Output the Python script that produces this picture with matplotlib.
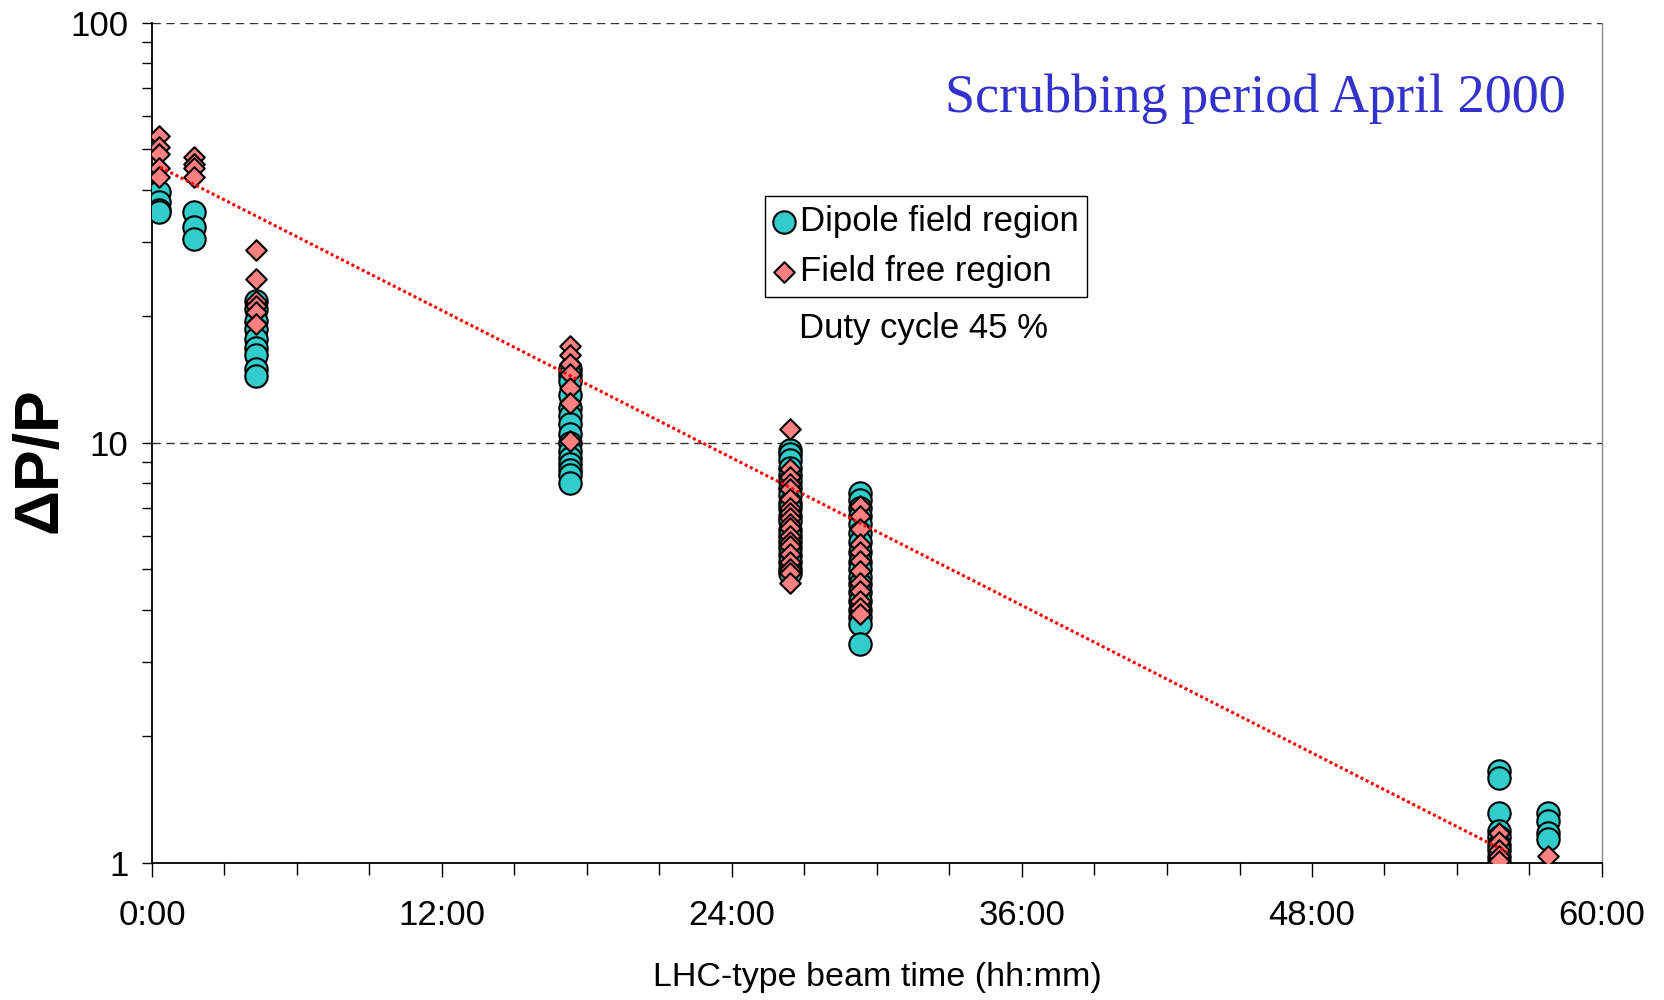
import numpy as np
import matplotlib
matplotlib.use("Agg")
import matplotlib.pyplot as plt
from matplotlib.ticker import MultipleLocator, FuncFormatter, LogLocator, NullFormatter

plt.rcParams['font.family'] = ['Liberation Sans', 'DejaVu Sans']

# Beam time of each measurement group (hours)
times = [0.30, 1.74, 4.29, 17.30, 26.40, 29.30, 55.74, 57.77]

# Dipole field region, dP/P values per group
dipole_vals = [
    [39.6, 37.5, 35.9, 35.5],
    [35.5, 32.7, 30.6],
    [21.7, 20.8, 19.5, 18.7, 17.7, 16.8, 16.2, 15.0, 14.4],
    [15.0, 14.5, 14.0, 13.0, 12.1, 11.6, 11.1, 10.5, 10.0, 9.55, 9.2, 8.9, 8.6, 8.4, 8.0],
    [9.6, 9.4, 9.1, 8.7, 8.4, 8.1, 7.8, 7.5, 7.2, 7.0, 6.7, 6.5, 6.2, 6.0, 5.8, 5.6,
     5.4, 5.2, 5.0, 4.9],
    [7.6, 7.3, 7.0, 6.7, 6.4, 6.1, 5.8, 5.5, 5.2, 5.0, 4.8, 4.6, 4.4, 4.2, 4.0, 3.85,
     3.7, 3.32],
    [1.65, 1.59, 1.31, 1.19, 1.15, 1.10, 1.07, 1.03, 1.0],
    [1.31, 1.26, 1.18, 1.14],
]

# Field free region, dP/P values per group
free_vals = [
    [53.6, 50.7, 48.7, 45.0, 42.8],
    [48.0, 46.2, 45.0, 42.8],
    [28.8, 24.5, 21.7, 21.2, 20.5, 19.2],
    [16.96, 16.2, 15.4, 14.6, 13.5, 12.4, 10.1],
    [10.8, 8.65, 8.3, 7.97, 7.75, 7.34, 6.99, 6.8, 6.61, 6.4, 6.26, 5.99, 5.8, 5.67,
     5.43, 5.2, 5.0, 4.89, 4.63],
    [7.06, 6.69, 6.23, 5.74, 5.5, 5.23, 4.95, 4.63, 4.43, 4.20, 4.05, 3.91],
    [1.18, 1.12, 1.07, 1.04, 1.01],
    [1.04],
]

# Exponential trend line (straight on log axis), end points
trend_t = [0.33, 56.07]
trend_y = [45.3, 1.06]

x_ticks = [0, 12, 24, 36, 48, 60]


def expand(groups):
    t = np.concatenate([[times[i]] * len(g) for i, g in enumerate(groups)])
    v = np.concatenate(groups)
    return t, v


def hhmm(x, pos):
    return f"{int(x)}:{int(round((x - int(x)) * 60)):02d}"


dip_t, dip_v = expand(dipole_vals)
free_t, free_v = expand(free_vals)

fig = plt.figure(figsize=(16.65, 10), dpi=100)
ax = fig.add_axes([152 / 1665, 1 - 862.7 / 1000, 1450 / 1665, 840 / 1000])

ax.scatter(dip_t, dip_v, s=260, marker='o', color='#33CCCC', edgecolors='black',
           linewidths=1.5, zorder=3, label='Dipole field region')
ax.scatter(free_t, free_v, s=110, marker='D', color='#FF8080', edgecolors='black',
           linewidths=1.5, zorder=4, label='Field free region')
ax.plot(trend_t, trend_y, color='#FF0000', linestyle=(0, (1, 0.9)), linewidth=2.2,
        zorder=5)

ax.set_yscale('log')
ax.set_ylim(1, 100)
ax.set_xlim(0, 60)
ax.set_xticks(x_ticks)
ax.xaxis.set_minor_locator(MultipleLocator(3))
ax.xaxis.set_major_formatter(FuncFormatter(hhmm))
ax.yaxis.set_major_locator(LogLocator(base=10, numticks=5))
ax.yaxis.set_minor_locator(LogLocator(base=10, subs=np.arange(2, 10), numticks=20))
ax.yaxis.set_minor_formatter(NullFormatter())
ax.yaxis.set_major_formatter(FuncFormatter(lambda v, p: f"{v:g}"))

ax.tick_params(axis='x', which='major', direction='out', length=10, width=1,
               labelsize=25, pad=16)
ax.tick_params(axis='x', which='minor', direction='out', length=8.5, width=1)
ax.tick_params(axis='y', which='both', direction='out', length=7, width=1,
               labelsize=25, pad=10)

ax.yaxis.grid(True, which='major', linestyle=(0, (6, 4)), color='#333333', linewidth=1)
ax.set_axisbelow(True)
ax.spines['top'].set_visible(False)
ax.spines['right'].set_color('#888888')
ax.spines['right'].set_linewidth(1)
ax.spines['left'].set_linewidth(1.3)
ax.spines['bottom'].set_linewidth(1.3)

ax.set_xlabel('LHC-type beam time (hh:mm)', fontsize=24.5)
ax.xaxis.set_label_coords(0.5, -0.118)
ax.set_ylabel('ΔP/P', fontsize=45, fontweight='bold', va='center')
ax.yaxis.set_label_coords(-0.077, 0.479)

ax.text(0.975, 0.8937, 'Scrubbing period April 2000', transform=ax.transAxes,
        ha='right', va='baseline', fontsize=39, color='#3333CC',
        family=['Liberation Serif', 'DejaVu Serif'])

leg = ax.legend(loc='upper left', bbox_to_anchor=(0.4228, 0.7937), borderaxespad=0,
                fontsize=25, frameon=True, fancybox=False, framealpha=1,
                edgecolor='black', handletextpad=0.15, handlelength=0.6,
                borderpad=0.25, labelspacing=0.5)
leg.get_frame().set_linewidth(1)

ax.text(0.532, 0.636, 'Duty cycle 45 %', transform=ax.transAxes, ha='center',
        va='center', fontsize=25)

fig.savefig('out.png', dpi=100)
